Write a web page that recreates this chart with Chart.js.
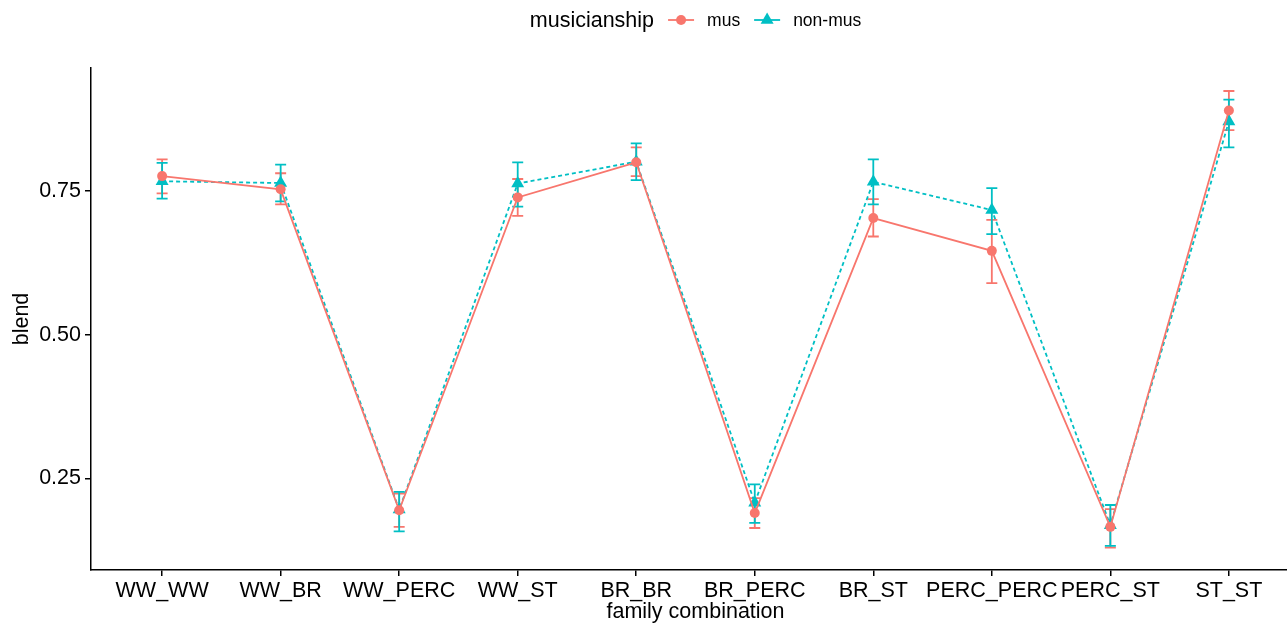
<!DOCTYPE html>
<html>
<head>
<meta charset="utf-8">
<script src="https://cdn.jsdelivr.net/npm/chart.js@4/dist/chart.umd.min.js"></script>
<style>
  html, body { margin: 0; padding: 0; background: #ffffff; overflow: hidden; }
  #wrap { width: 1287px; height: 623px; overflow: hidden; position: relative; }
  canvas { display: block; }
</style>
</head>
<body>
<div id="wrap"><canvas id="chart" width="1300" height="623"></canvas></div>
<script>
// Family combinations on the x axis
const categories = ['WW_WW', 'WW_BR', 'WW_PERC', 'WW_ST', 'BR_BR', 'BR_PERC', 'BR_ST', 'PERC_PERC', 'PERC_ST', 'ST_ST'];

// Musicians: mean blend rating with error bar limits
const musMean = [0.776, 0.753, 0.195, 0.739, 0.800, 0.190, 0.703, 0.646, 0.166, 0.890];
const musLow  = [0.746, 0.727, 0.166, 0.707, 0.776, 0.164, 0.671, 0.590, 0.130, 0.856];
const musHigh = [0.805, 0.781, 0.224, 0.771, 0.826, 0.216, 0.736, 0.700, 0.197, 0.924];

// Non-musicians: mean blend rating with error bar limits
const nonMean = [0.767, 0.764, 0.196, 0.763, 0.801, 0.208, 0.766, 0.717, 0.169, 0.871];
const nonLow  = [0.737, 0.732, 0.158, 0.723, 0.769, 0.173, 0.727, 0.675, 0.133, 0.826];
const nonHigh = [0.799, 0.796, 0.227, 0.800, 0.833, 0.240, 0.805, 0.755, 0.204, 0.909];

// Y axis tick values
const yTicks = [0.25, 0.50, 0.75];

const PINK = '#F8766D';
const CYAN = '#00BFC4';
const FONT = '"Liberation Sans", Arial, Helvetica, sans-serif';

const toPoints = (arr) => arr.map((v, i) => ({ x: i + 1, y: v }));

// Error bars, drawn beneath lines and points
const errorBars = {
  id: 'errorBars',
  beforeDatasetsDraw(chart) {
    const { ctx, scales: { x, y } } = chart;
    const sets = [
      { low: musLow, high: musHigh, color: PINK },
      { low: nonLow, high: nonHigh, color: CYAN }
    ];
    ctx.save();
    ctx.lineWidth = 1.8;
    const half = 5.5;
    sets.forEach(s => {
      ctx.strokeStyle = s.color;
      s.low.forEach((lo, i) => {
        const px = x.getPixelForValue(i + 1);
        const y1 = y.getPixelForValue(lo);
        const y2 = y.getPixelForValue(s.high[i]);
        ctx.beginPath();
        ctx.moveTo(px, y1); ctx.lineTo(px, y2);
        ctx.moveTo(px - half, y1); ctx.lineTo(px + half, y1);
        ctx.moveTo(px - half, y2); ctx.lineTo(px + half, y2);
        ctx.stroke();
      });
    });
    ctx.restore();
  }
};

// Legend across the top: title, then line+marker keys
const topLegend = {
  id: 'topLegend',
  afterDraw(chart) {
    const { ctx, chartArea } = chart;
    const yMid = 20;
    const titleFont = '21.5px ' + FONT;
    const labelFont = '17.5px ' + FONT;
    const title = 'musicianship';
    const keyW = 26, gapAfterTitle = 14, gapKeyText = 13, gapItems = 14;
    ctx.save();
    ctx.font = titleFont;
    const titleW = ctx.measureText(title).width;
    ctx.font = labelFont;
    const items = chart.data.datasets.map(d => ({
      label: d.label, color: d.borderColor, style: d.pointStyle, w: ctx.measureText(d.label).width
    }));
    let total = titleW + gapAfterTitle;
    items.forEach((it, k) => { total += keyW + gapKeyText + it.w + (k < items.length - 1 ? gapItems : 0); });
    let cx = (chartArea.left + chartArea.right) / 2 - total / 2;

    ctx.fillStyle = '#000';
    ctx.textBaseline = 'middle';
    ctx.textAlign = 'left';
    ctx.font = titleFont;
    ctx.fillText(title, cx, yMid + 1);
    cx += titleW + gapAfterTitle;

    items.forEach(it => {
      ctx.strokeStyle = it.color;
      ctx.fillStyle = it.color;
      ctx.lineWidth = 1.8;
      ctx.beginPath();
      ctx.moveTo(cx, yMid); ctx.lineTo(cx + keyW, yMid);
      ctx.stroke();
      const mx = cx + keyW / 2;
      ctx.beginPath();
      if (it.style === 'triangle') {
        const r = 7.5;
        ctx.moveTo(mx, yMid - r);
        ctx.lineTo(mx + r * 0.866, yMid + r * 0.5);
        ctx.lineTo(mx - r * 0.866, yMid + r * 0.5);
        ctx.closePath();
      } else {
        ctx.arc(mx, yMid, 5, 0, Math.PI * 2);
      }
      ctx.fill();
      cx += keyW + gapKeyText;
      ctx.fillStyle = '#000';
      ctx.font = labelFont;
      ctx.fillText(it.label, cx, yMid + 1);
      cx += it.w + gapItems;
    });
    ctx.restore();
  }
};

new Chart(document.getElementById('chart'), {
  type: 'line',
  data: {
    datasets: [
      {
        label: 'mus',
        data: toPoints(musMean),
        borderColor: PINK,
        backgroundColor: PINK,
        borderWidth: 1.8,
        pointStyle: 'circle',
        pointRadius: 5,
        pointBorderWidth: 0,
        pointBackgroundColor: PINK,
        tension: 0
      },
      {
        label: 'non-mus',
        data: toPoints(nonMean),
        borderColor: CYAN,
        backgroundColor: CYAN,
        borderWidth: 1.8,
        borderDash: [4, 3],
        pointStyle: 'triangle',
        pointRadius: 7.5,
        pointBorderWidth: 0,
        pointBackgroundColor: CYAN,
        tension: 0
      }
    ]
  },
  options: {
    responsive: false,
    animation: false,
    layout: { autoPadding: false, padding: { top: 68, right: 0, bottom: 0, left: 0 } },
    plugins: {
      legend: { display: false },
      tooltip: { enabled: false }
    },
    scales: {
      x: {
        type: 'linear',
        min: 0.4,
        max: 10.6,
        afterBuildTicks: (scale) => { scale.ticks = categories.map((c, i) => ({ value: i + 1 })); },
        afterFit: (scale) => {
          scale.height = 53;
          scale.paddingLeft = 0;
          scale.paddingRight = 0;
        },
        ticks: {
          autoSkip: false,
          maxRotation: 0,
          minRotation: 0,
          padding: 2,
          color: '#000',
          font: { family: FONT, size: 21.5 },
          callback: (v) => categories[Math.round(v) - 1]
        },
        grid: { drawOnChartArea: false, drawTicks: true, tickLength: 6, color: '#000', lineWidth: 1.5 },
        border: { display: true, color: '#000', width: 1.5 },
        title: {
          display: true,
          text: 'family combination',
          color: '#000',
          font: { family: FONT, size: 21.5, lineHeight: 1 },
          padding: { top: 0, bottom: 0 }
        }
      },
      y: {
        type: 'linear',
        min: 0.091,
        max: 0.964,
        afterBuildTicks: (scale) => { scale.ticks = yTicks.map(v => ({ value: v })); },
        afterFit: (scale) => {
          scale.width = 91;
          scale.paddingTop = 0;
          scale.paddingBottom = 0;
        },
        ticks: {
          padding: 4,
          color: '#000',
          font: { family: FONT, size: 21.5 },
          callback: (v) => v.toFixed(2)
        },
        grid: { drawOnChartArea: false, drawTicks: true, tickLength: 6, color: '#000', lineWidth: 1.5 },
        border: { display: true, color: '#000', width: 1.5 },
        title: {
          display: true,
          text: 'blend',
          color: '#000',
          font: { family: FONT, size: 21.5, lineHeight: 1 },
          padding: { top: 11, bottom: 0 }
        }
      }
    }
  },
  plugins: [errorBars, topLegend]
});
</script>
</body>
</html>
